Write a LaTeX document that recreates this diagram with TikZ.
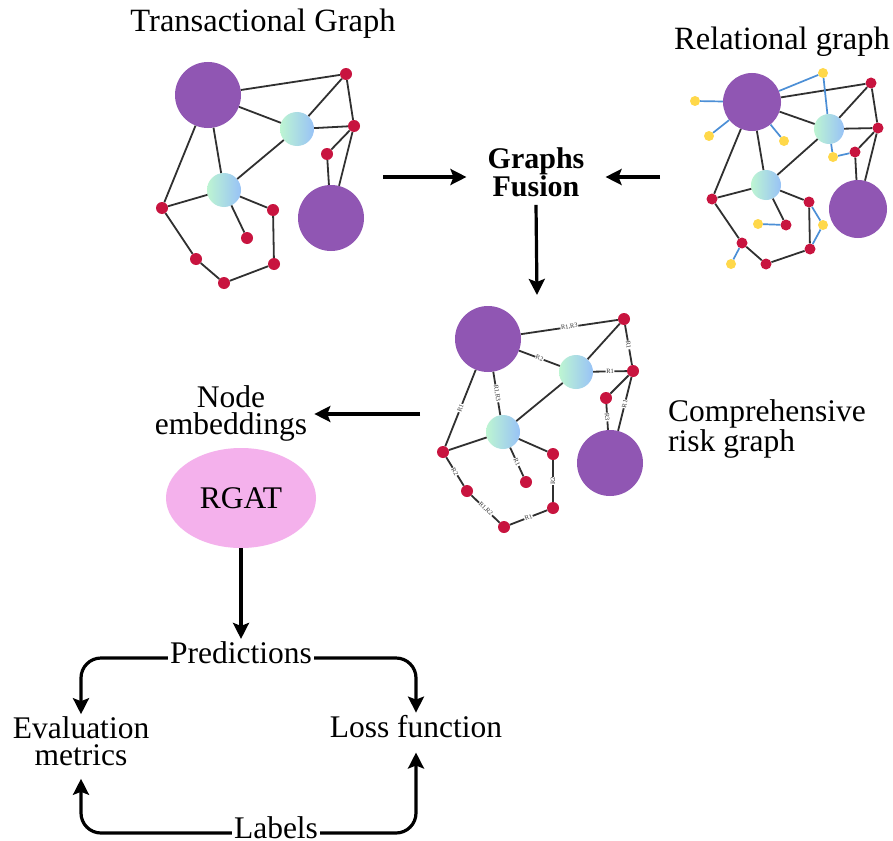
\documentclass[tikz,border=0pt]{standalone}
\usepackage{fontspec}
\setmainfont{Liberation Serif}
\usetikzlibrary{arrows.meta,shapes.geometric}

\definecolor{purp}{HTML}{9056B3}
\definecolor{crim}{HTML}{C8143F}
\definecolor{yel}{HTML}{FFD84A}
\definecolor{bluec}{HTML}{4C8FD6}
\definecolor{mintc}{HTML}{BDF5D2}
\definecolor{skyc}{HTML}{98C2F6}
\definecolor{edgec}{HTML}{303030}
\definecolor{rgatpink}{HTML}{F4B1EC}

\begin{document}
\begin{tikzpicture}[x=1pt,y=-1pt,
  big/.style={circle,fill=purp,inner sep=0pt,minimum size=#1},
  mid/.style={circle,inner sep=0pt,minimum size=#1,left color=mintc,right color=skyc},
  dot/.style={circle,fill=crim,inner sep=0pt,minimum size=#1},
  ydot/.style={circle,fill=yel,inner sep=0pt,minimum size=10pt},
  gedge/.style={draw=edgec,line width=1.8pt},
  bedge/.style={draw=bluec,line width=1.7pt},
  elab/.style={sloped,fill=white,inner sep=0.6pt,text=black!80,font=\fontsize{6.5}{6.5}\selectfont},
  lbl/.style={font=\fontsize{31.5}{27}\selectfont,inner sep=2pt},
  ttl/.style={font=\fontsize{32.5}{28}\selectfont,inner sep=2pt},
  arr/.style={line width=3.2pt,-{Stealth[length=16pt,width=16pt,inset=3pt]}},
]
\fill[white] (0,0) rectangle (893,840);
\useasboundingbox (0,0) rectangle (893,840);

% ---------- titles ----------
\node[ttl,anchor=base] (ttitle) at (263,32) {Transactional Graph};
\node[ttl,anchor=base] (gtitle) at (782,50) {Relational graph};

% ---------- transactional graph ----------
\node[big=66pt] (tP1) at (208,95) {};
\node[big=66pt] (tP2) at (331,218) {};
\node[mid=34pt] (tC1) at (297,129) {};
\node[mid=34pt] (tC2) at (224,190) {};
\foreach \n/\x/\y in {r1/346/74,r2/354/126,r3/327/154,r4/162/208,r5/273/210,
                      r6/247/238,r7/196/259,r8/274/264,r9/224/283}
  \node[dot=12pt] (t\n) at (\x,\y) {};
\foreach \a/\b in {P1/r1,P1/C1,P1/C2,P1/r4,C1/r1,C1/r2,C1/C2,r1/r2,r2/r3,r2/P2,
                   r3/P2,C2/r4,C2/r5,C2/r6,r4/r7,r7/r9,r9/r8,r8/r5}
  \draw[gedge] (t\a) -- (t\b);

% ---------- relational graph ----------
\node[big=58pt] (gP1) at (752,102) {};
\node[big=58pt] (gP2) at (858,209) {};
\node[mid=30pt] (gC1) at (829,129) {};
\node[mid=30pt] (gC2) at (766,185) {};
\foreach \n/\x/\y in {r1/871/83,r2/878/128,r3/855/152,r4/712/199,r5/809/202,
                      r6/786/225,r7/742/243,r8/810/249,r9/766/264}
  \node[dot=11pt] (g\n) at (\x,\y) {};
\foreach \n/\x/\y in {y1/823/73,y2/695/101,y3/709/136,y4/784/141,y5/833/157,
                      y6/758/224,y7/823/225,y8/731/264}
  \node[ydot] (g\n) at (\x,\y) {};
\foreach \a/\b in {P1/r1,P1/C1,P1/C2,P1/r4,C1/r1,C1/r2,C1/C2,r1/r2,r2/r3,r2/P2,
                   r3/P2,C2/r4,C2/r5,C2/r6,r4/r7,r7/r9,r9/r8,r8/r5}
  \draw[gedge] (g\a) -- (g\b);
\foreach \a/\b in {P1/y1,y1/C1,P1/y2,P1/y3,P1/y4,C1/y5,y5/r3,r6/y6,r5/y7,y7/r8,r7/y8}
  \draw[bedge] (g\a) -- (g\b);

% ---------- fusion ----------
\node[font=\bfseries\fontsize{30}{26}\selectfont,align=center,inner xsep=21pt,inner ysep=8pt]
  (fuse) at (536,172) {Graphs\\Fusion};
\coordinate (tOut) at (383,177);
\coordinate (gOut) at (660,177);
\coordinate (cIn) at (537,295);
\draw[arr] (tOut) -- (tOut -| fuse.west);
\draw[arr] (gOut) -- (gOut -| fuse.east);
\draw[arr] (fuse.south) -- (cIn);

% ---------- comprehensive risk graph ----------
\node[big=66pt] (cP1) at (488,339) {};
\node[big=66pt] (cP2) at (610,463) {};
\node[mid=34pt] (cC1) at (576,372) {};
\node[mid=34pt] (cC2) at (503,432) {};
\foreach \n/\x/\y in {r1/624/319,r2/633/371,r3/606/398,r4/443/452,r5/553/454,
                      r6/526/482,r7/467/491,r8/553/508,r9/504/527}
  \node[dot=12pt] (c\n) at (\x,\y) {};
\foreach \a/\b in {C1/r1,C1/C2,r2/r3,C2/r4,C2/r5}
  \draw[gedge] (c\a) -- (c\b);
\foreach \a/\b/\l in {P1/r1/{R1,R3},P1/C1/R2,C1/r2/R1,r1/r2/R1,P1/C2/{R1,R3},
                      P1/r4/R1,r3/P2/R3,r2/P2/R1,C2/r6/R1,r4/r7/R2,r7/r9/{R1,R2},
                      r9/r8/R1,r8/r5/R2}
  \draw[gedge] (c\a) -- node[elab] {\l} (c\b);
\node[lbl,align=left,anchor=west] (crg) at (666,429) {Comprehensive\\risk graph};

% ---------- embeddings and model ----------
\node[lbl,align=center] (emb) at (231,413) {Node\\embeddings};
\coordinate (cOut) at (420,414);
\draw[arr,shorten >=5pt] (cOut) -- (cOut -| emb.east);
\node[lbl,ellipse,fill=rgatpink,minimum width=150pt,minimum height=100pt] (rgat) at (241,498) {RGAT};

% ---------- training loop ----------
\node[lbl,anchor=base] (pred) at (241,663) {Predictions};
\node[lbl,align=center] (eval) at (81,741) {Evaluation\\metrics};
\node[lbl,anchor=base] (loss) at (416,737) {Loss function};
\node[lbl,anchor=base] (labels) at (276,838) {Labels};
\draw[arr] (rgat.south) -- (pred.north);
\draw[arr,rounded corners=20pt] ([yshift=5pt]pred.base west) -| (eval.north);
\draw[arr,rounded corners=20pt] ([yshift=5pt]pred.base east) -| (loss.north);
\draw[arr,rounded corners=20pt] ([yshift=5pt]labels.base west) -| ([yshift=-11pt]eval.south);
\draw[arr,rounded corners=20pt] ([yshift=5pt]labels.base east) -| ([yshift=-13pt]loss.south);
\end{tikzpicture}
\end{document}
